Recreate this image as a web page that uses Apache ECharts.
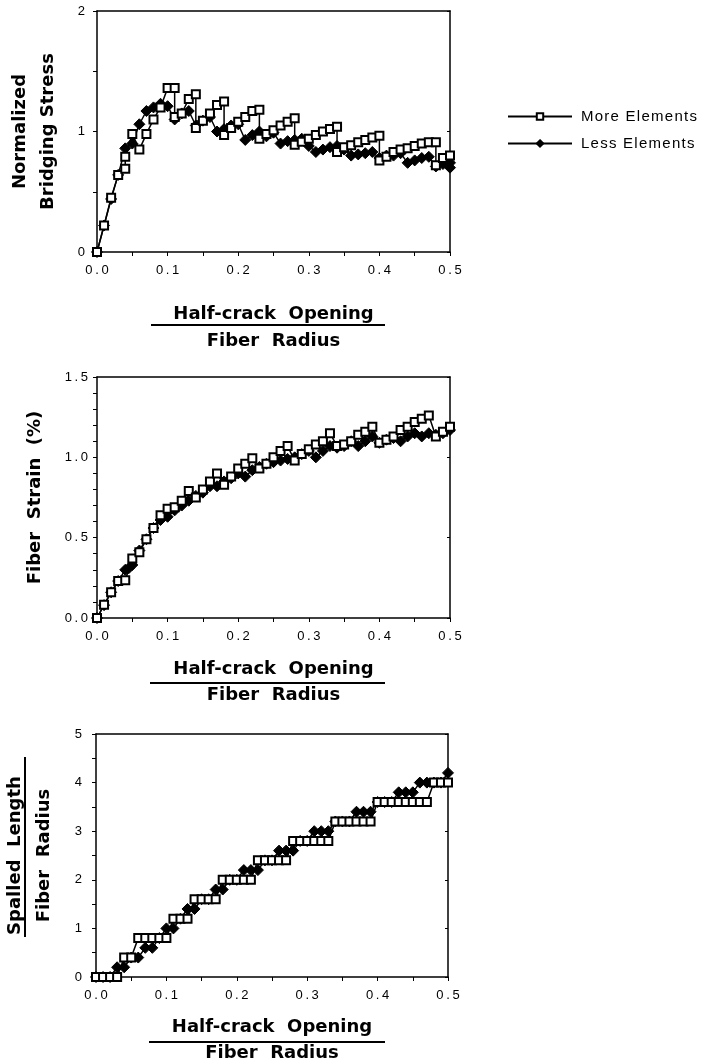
<!DOCTYPE html>
<html>
<head>
<meta charset="utf-8">
<script src="https://cdn.jsdelivr.net/npm/echarts@6/dist/echarts.min.js"></script>
<style>
html,body{margin:0;padding:0;background:#fff;}
#chart{width:705px;height:1063px;}
</style>
</head>
<body>
<div id="chart"></div>
<script>
// ---------- DATA ----------
const seriesNames = ['More Elements', 'Less Elements'];
const xTickLabels = ['0.0', '0.1', '0.2', '0.3', '0.4', '0.5'];

// Panel 1: Normalized Bridging Stress
const stressMoreX = [0, 0.01, 0.02, 0.03, 0.04, 0.04, 0.05, 0.06, 0.07, 0.08, 0.09, 0.10, 0.11, 0.11, 0.12, 0.13, 0.14, 0.14, 0.15, 0.16, 0.17, 0.18, 0.18, 0.19, 0.20, 0.21, 0.22, 0.23, 0.23, 0.24, 0.25, 0.26, 0.27, 0.28, 0.28, 0.29, 0.30, 0.31, 0.32, 0.33, 0.34, 0.34, 0.35, 0.36, 0.37, 0.38, 0.39, 0.40, 0.40, 0.41, 0.42, 0.43, 0.44, 0.45, 0.46, 0.47, 0.48, 0.48, 0.49, 0.50];
const stressMoreY = [0, 0.22, 0.45, 0.64, 0.69, 0.79, 0.98, 0.85, 0.98, 1.10, 1.20, 1.36, 1.36, 1.12, 1.15, 1.27, 1.31, 1.03, 1.09, 1.15, 1.22, 1.25, 0.97, 1.03, 1.08, 1.12, 1.17, 1.18, 0.94, 0.98, 1.01, 1.05, 1.08, 1.11, 0.89, 0.915, 0.94, 0.97, 1.00, 1.02, 1.04, 0.83, 0.87, 0.885, 0.91, 0.93, 0.95, 0.965, 0.76, 0.79, 0.83, 0.85, 0.86, 0.88, 0.90, 0.91, 0.91, 0.72, 0.78, 0.80];
const stressLessX = [0, 0.01, 0.02, 0.03, 0.04, 0.05, 0.06, 0.07, 0.08, 0.09, 0.10, 0.11, 0.12, 0.13, 0.14, 0.15, 0.16, 0.17, 0.18, 0.19, 0.20, 0.21, 0.22, 0.23, 0.24, 0.25, 0.26, 0.27, 0.28, 0.29, 0.30, 0.31, 0.32, 0.33, 0.34, 0.35, 0.36, 0.37, 0.38, 0.39, 0.40, 0.41, 0.42, 0.43, 0.44, 0.45, 0.46, 0.47, 0.48, 0.49, 0.50, 0.50];
const stressLessY = [0, 0.22, 0.44, 0.64, 0.86, 0.90, 1.06, 1.17, 1.20, 1.23, 1.21, 1.10, 1.15, 1.17, 1.05, 1.09, 1.12, 1.00, 1.02, 1.05, 1.06, 0.93, 0.97, 1.00, 0.96, 0.99, 0.90, 0.92, 0.93, 0.94, 0.88, 0.83, 0.85, 0.87, 0.88, 0.85, 0.80, 0.81, 0.82, 0.83, 0.78, 0.80, 0.80, 0.82, 0.74, 0.76, 0.78, 0.79, 0.71, 0.73, 0.74, 0.70];

// Panel 2: Fiber Strain (%)
const strainMoreX = [0, 0.01, 0.02, 0.03, 0.04, 0.05, 0.06, 0.07, 0.08, 0.09, 0.10, 0.11, 0.12, 0.13, 0.14, 0.15, 0.16, 0.17, 0.18, 0.19, 0.20, 0.21, 0.22, 0.23, 0.24, 0.25, 0.26, 0.27, 0.28, 0.29, 0.30, 0.31, 0.32, 0.33, 0.34, 0.35, 0.36, 0.37, 0.38, 0.39, 0.40, 0.41, 0.42, 0.43, 0.44, 0.45, 0.46, 0.47, 0.48, 0.49, 0.50];
const strainMoreY = [0, 0.083, 0.16, 0.23, 0.235, 0.37, 0.41, 0.49, 0.56, 0.64, 0.68, 0.69, 0.73, 0.79, 0.75, 0.80, 0.85, 0.90, 0.83, 0.88, 0.93, 0.96, 0.995, 0.93, 0.96, 1.00, 1.04, 1.07, 0.98, 1.02, 1.05, 1.08, 1.10, 1.15, 1.07, 1.08, 1.10, 1.14, 1.16, 1.19, 1.09, 1.11, 1.13, 1.17, 1.19, 1.22, 1.24, 1.26, 1.13, 1.16, 1.19];
const strainLessX = [0, 0.01, 0.02, 0.03, 0.04, 0.045, 0.05, 0.06, 0.07, 0.08, 0.09, 0.10, 0.11, 0.12, 0.13, 0.14, 0.15, 0.16, 0.17, 0.18, 0.19, 0.20, 0.21, 0.22, 0.23, 0.24, 0.25, 0.26, 0.27, 0.28, 0.29, 0.30, 0.31, 0.32, 0.33, 0.34, 0.35, 0.36, 0.37, 0.38, 0.39, 0.40, 0.41, 0.42, 0.43, 0.44, 0.45, 0.46, 0.47, 0.48, 0.49, 0.50];
const strainLessY = [0, 0.08, 0.16, 0.23, 0.30, 0.31, 0.33, 0.42, 0.49, 0.56, 0.61, 0.63, 0.67, 0.70, 0.73, 0.76, 0.78, 0.82, 0.82, 0.85, 0.87, 0.90, 0.88, 0.92, 0.94, 0.96, 0.97, 0.98, 0.99, 1.00, 1.02, 1.04, 1.00, 1.04, 1.07, 1.06, 1.07, 1.10, 1.07, 1.10, 1.13, 1.09, 1.11, 1.12, 1.10, 1.13, 1.15, 1.13, 1.15, 1.14, 1.15, 1.17];

// Panel 3: Spalled Length / Fiber Radius
const spallMoreX = [0, 0.01, 0.02, 0.03, 0.04, 0.05, 0.06, 0.07, 0.08, 0.09, 0.10, 0.11, 0.12, 0.13, 0.14, 0.15, 0.16, 0.17, 0.18, 0.19, 0.20, 0.21, 0.22, 0.23, 0.24, 0.25, 0.26, 0.27, 0.28, 0.29, 0.30, 0.31, 0.32, 0.33, 0.34, 0.35, 0.36, 0.37, 0.38, 0.39, 0.40, 0.41, 0.42, 0.43, 0.44, 0.45, 0.46, 0.47, 0.48, 0.49, 0.50];
const spallMoreY = [0, 0, 0, 0, 0.4, 0.4, 0.8, 0.8, 0.8, 0.8, 0.8, 1.2, 1.2, 1.2, 1.6, 1.6, 1.6, 1.6, 2.0, 2.0, 2.0, 2.0, 2.0, 2.4, 2.4, 2.4, 2.4, 2.4, 2.8, 2.8, 2.8, 2.8, 2.8, 2.8, 3.2, 3.2, 3.2, 3.2, 3.2, 3.2, 3.6, 3.6, 3.6, 3.6, 3.6, 3.6, 3.6, 3.6, 4.0, 4.0, 4.0];
const spallLessX = [0, 0.01, 0.02, 0.03, 0.04, 0.05, 0.06, 0.07, 0.08, 0.09, 0.10, 0.11, 0.12, 0.13, 0.14, 0.15, 0.16, 0.17, 0.18, 0.19, 0.20, 0.21, 0.22, 0.23, 0.24, 0.25, 0.26, 0.27, 0.28, 0.29, 0.30, 0.31, 0.32, 0.33, 0.34, 0.35, 0.36, 0.37, 0.38, 0.39, 0.40, 0.41, 0.42, 0.43, 0.44, 0.45, 0.46, 0.47, 0.48, 0.49, 0.50];
const spallLessY = [0, 0, 0, 0.2, 0.2, 0.4, 0.4, 0.6, 0.6, 0.8, 1.0, 1.0, 1.2, 1.4, 1.4, 1.6, 1.6, 1.8, 1.8, 2.0, 2.0, 2.2, 2.2, 2.2, 2.4, 2.4, 2.6, 2.6, 2.6, 2.8, 2.8, 3.0, 3.0, 3.0, 3.2, 3.2, 3.2, 3.4, 3.4, 3.4, 3.6, 3.6, 3.6, 3.8, 3.8, 3.8, 4.0, 4.0, 4.0, 4.0, 4.2];

// ---------- CHART ----------
const zip = (xs, ys) => xs.map((x, i) => [x, ys[i]]);
const tickFont = 'Liberation Sans, Arial, sans-serif';
const titleFont = 'DejaVu Sans, sans-serif';
const spaced = s => s.split('').join('\u2009');
const hairSpaced = s => s.split('').join('\u200A');
const xFmt = v => { const s = (Math.round(v * 10) / 10).toFixed(1); return xTickLabels.indexOf(s) >= 0 ? spaced(s) : ''; };

const grids = [
  {left: 97, right: 255, top: 11, height: 241},
  {left: 97, right: 255, top: 377, height: 241},
  {left: 96, right: 257, top: 734, height: 243}
];

const yDefs = [
  {max: 2, interval: 1, minorSplit: 2, fmt: v => String(v), name: 'Normalized\nBridging Stress', gap: 35, lh: 28, margin: 12},
  {max: 1.5, interval: 0.5, minorSplit: 5, fmt: v => spaced(v.toFixed(1)), name: 'Fiber  Strain  (%)', gap: 50, lh: 24, margin: 9},
  {max: 5, interval: 1, minorSplit: 2, fmt: v => String(v), name: 'Spalled  Length\nFiber  Radius', gap: 37, lh: 29, margin: 14}
];
const xNameGaps = [49, 38, 37];
const xNameLH = [27, 26, 26];

const axisLine = {show: true, onZero: false, lineStyle: {color: '#000', width: 1.5}};
const tick = {show: true, length: 4, inside: false, lineStyle: {color: '#000', width: 1}};

const xAxes = [], yAxes = [];
grids.forEach((g, i) => {
  xAxes.push({
    type: 'value', gridIndex: i, min: 0, max: 0.5, interval: 0.1, position: 'bottom',
    axisLine: axisLine, axisTick: tick,
    minorTick: {show: true, splitNumber: 2, length: 4, lineStyle: {color: '#000'}},
    splitLine: {show: false},
    axisLabel: {formatter: xFmt, fontFamily: tickFont, fontSize: 13, color: '#000', margin: 12},
    name: 'Half-crack  Opening\nFiber  Radius', nameLocation: 'middle', nameGap: xNameGaps[i],
    nameTextStyle: {fontFamily: titleFont, fontWeight: 'bold', fontSize: 18, color: '#000', lineHeight: xNameLH[i]}
  });
  xAxes.push({
    type: 'value', gridIndex: i, min: 0, max: 0.5, interval: 0.1, position: 'top',
    axisLine: axisLine, axisTick: {show: false}, axisLabel: {show: false}, splitLine: {show: false}
  });
  const d = yDefs[i];
  yAxes.push({
    type: 'value', gridIndex: i, min: 0, max: d.max, interval: d.interval, position: 'left',
    axisLine: axisLine, axisTick: tick,
    minorTick: {show: true, splitNumber: d.minorSplit, length: 4, lineStyle: {color: '#000'}},
    splitLine: {show: false},
    axisLabel: {formatter: d.fmt, fontFamily: tickFont, fontSize: 13, color: '#000', margin: d.margin},
    name: d.name, nameLocation: 'middle', nameGap: d.gap, nameRotate: 90,
    nameTextStyle: {fontFamily: titleFont, fontWeight: 'bold', fontSize: 18, color: '#000', lineHeight: d.lh}
  });
  yAxes.push({
    type: 'value', gridIndex: i, min: 0, max: d.max, interval: d.interval, position: 'right',
    axisLine: axisLine, axisTick: {show: true, length: 3, inside: true, lineStyle: {color: '#000'}},
    axisLabel: {show: false}, splitLine: {show: false}
  });
});

const panelData = [
  [zip(stressMoreX, stressMoreY), zip(stressLessX, stressLessY)],
  [zip(strainMoreX, strainMoreY), zip(strainLessX, strainLessY)],
  [zip(spallMoreX, spallMoreY), zip(spallLessX, spallLessY)]
];

const series = [];
panelData.forEach((pd, i) => {
  series.push({
    name: seriesNames[1], type: 'line', xAxisIndex: 2 * i, yAxisIndex: 2 * i, data: pd[1],
    symbol: 'diamond', symbolSize: 11, showAllSymbol: true, animation: false, z: 2,
    lineStyle: {color: '#000', width: 1.5}, itemStyle: {color: '#000', borderColor: '#000', borderWidth: 1}
  });
  series.push({
    name: seriesNames[0], type: 'line', xAxisIndex: 2 * i, yAxisIndex: 2 * i, data: pd[0],
    symbol: 'rect', symbolSize: 8, showAllSymbol: true, animation: false, z: 3,
    lineStyle: {color: '#000', width: 1.5}, itemStyle: {color: '#fff', borderColor: '#000', borderWidth: 2}
  });
});

const chart = echarts.init(document.getElementById('chart'), null, {renderer: 'canvas'});
chart.setOption({
  backgroundColor: '#fff',
  animation: false,
  grid: grids.map(g => Object.assign({containLabel: false, outerBoundsMode: 'none'}, g)),
  xAxis: xAxes,
  yAxis: yAxes,
  legend: {
    data: seriesNames, orient: 'vertical', left: 502, top: 104,
    itemWidth: 64, itemHeight: 8, itemGap: 12,
    formatter: name => hairSpaced(name),
    textStyle: {fontFamily: tickFont, fontSize: 15, color: '#000', padding: [0, 0, 0, 4]}
  },
  graphic: [
    {type: 'line', shape: {x1: 151, y1: 325, x2: 385, y2: 325}, style: {stroke: '#000', lineWidth: 2}},
    {type: 'line', shape: {x1: 150, y1: 683, x2: 385, y2: 683}, style: {stroke: '#000', lineWidth: 2}},
    {type: 'line', shape: {x1: 149, y1: 1042, x2: 385, y2: 1042}, style: {stroke: '#000', lineWidth: 2}},
    {type: 'line', shape: {x1: 25, y1: 757, x2: 25, y2: 937}, style: {stroke: '#000', lineWidth: 2}}
  ],
  series: series
});
</script>
</body>
</html>
